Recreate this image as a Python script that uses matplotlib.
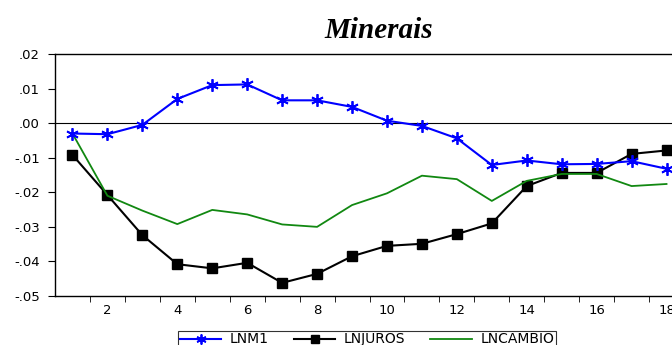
import numpy as np
import matplotlib.pyplot as plt
from matplotlib.ticker import FixedLocator, FuncFormatter

plt.rcParams['font.family'] = ['DejaVu Sans']

# respostas ao impulso, periodos 1..18
periods = np.arange(1, 19)
lnm1 = [-0.0030, -0.0032, -0.0005, 0.0070, 0.0110, 0.0112, 0.0066, 0.0066, 0.0047,
        0.0007, -0.0008, -0.0044, -0.0121, -0.0108, -0.0119, -0.0118, -0.0110, -0.0132]
lnjuros = [-0.0092, -0.0208, -0.0324, -0.0408, -0.0420, -0.0404, -0.0462, -0.0436, -0.0385,
           -0.0355, -0.0349, -0.0321, -0.0290, -0.0182, -0.0144, -0.0144, -0.0089, -0.0079]
lncambio = [-0.0030, -0.0210, -0.0253, -0.0292, -0.0251, -0.0264, -0.0293, -0.0300, -0.0237,
            -0.0203, -0.0152, -0.0162, -0.0225, -0.0167, -0.0147, -0.0147, -0.0182, -0.0176]

fig = plt.figure(figsize=(6.72, 3.45), dpi=100)
ax = fig.add_axes([55 / 672, 1 - 296 / 345, 629 / 672, 242 / 345])

asterisk = (6, 2, 0)
ax.axhline(0, color='black', lw=0.8, zorder=1)
ax.plot(periods, lnm1, color='#0000ff', lw=1.5, marker=asterisk, ms=9, mew=1.3,
        label='LNM1', zorder=3)
ax.plot(periods, lnjuros, color='black', lw=1.5, marker='s', ms=7,
        label='LNJUROS', zorder=2)
ax.plot(periods, lncambio, color='#118811', lw=1.3, label='LNCAMBIO', zorder=2)

ax.set_xlim(0.5, 18.5)
ax.set_ylim(-0.05, 0.02)

# rotulos nos periodos pares, marcas entre periodos
ax.xaxis.set_major_locator(FixedLocator(np.arange(2, 19, 2)))
ax.xaxis.set_minor_locator(FixedLocator(np.arange(1.5, 18.6, 1)))
ax.tick_params(axis='x', which='major', length=0, pad=6, labelsize=9.5)
ax.tick_params(axis='x', which='minor', length=4, direction='out')
ax.set_yticks(np.arange(-0.05, 0.021, 0.01))
ax.yaxis.set_major_formatter(FuncFormatter(
    lambda v, p: ('-' if v < -1e-9 else '') + f'{abs(v):.2f}'.lstrip('0')))
ax.tick_params(axis='y', length=5, direction='out', labelsize=9.5, pad=6)

for s in ['top', 'bottom', 'left', 'right']:
    ax.spines[s].set_linewidth(1.0)

fig.text(379 / 672, 1 - 30 / 345, 'Minerais', family='Liberation Serif',
         fontsize=21, fontweight='bold', fontstyle='italic', ha='center', va='center')

leg = fig.legend(loc='upper center', bbox_to_anchor=(367 / 672, 1 - 331 / 345), ncol=3,
                 fontsize=10, frameon=True, fancybox=False, edgecolor='black',
                 handlelength=3.0, columnspacing=1.8, handletextpad=0.6,
                 borderpad=0.1, borderaxespad=0, markerscale=0.8)
leg.get_frame().set_linewidth(0.8)

fig.savefig('out.png', dpi=100)
